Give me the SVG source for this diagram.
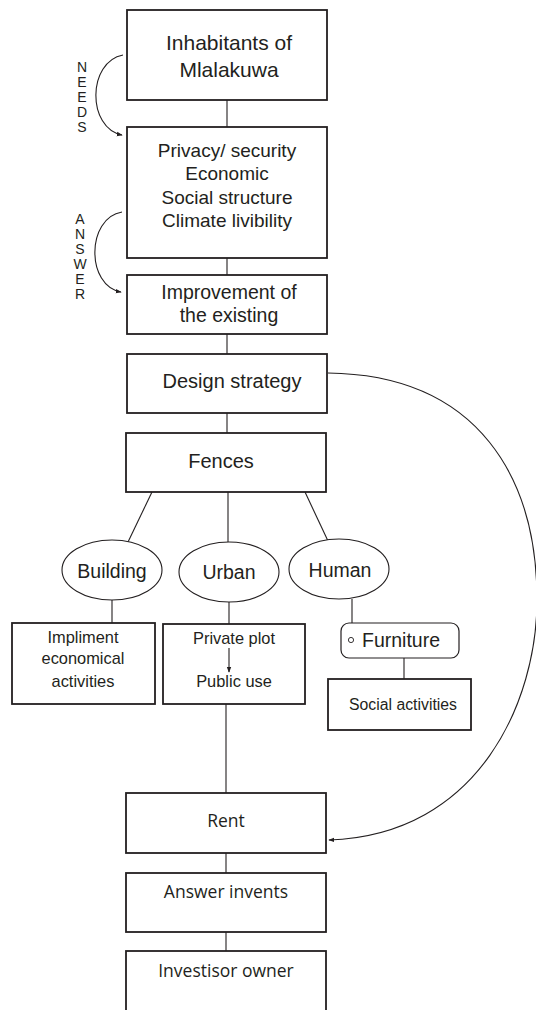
<svg xmlns="http://www.w3.org/2000/svg" width="536" height="1010" viewBox="0 0 536 1010">
<defs>
<style>
.box{fill:#fff;stroke:#231f20;stroke-width:1.8}
.ell{fill:#fff;stroke:#231f20;stroke-width:1.1}
.rbox{fill:#fff;stroke:#231f20;stroke-width:1.2}
.ln{fill:none;stroke:#231f20;stroke-width:1.1}
.t{font-family:"Liberation Sans",Arial,sans-serif;fill:#231f20;text-anchor:middle}
.m{font-family:"Open Sans","Noto Sans",sans-serif;fill:#231f20;text-anchor:middle;font-size:17.5px}
.v{font-family:"Liberation Sans",Arial,sans-serif;fill:#231f20;text-anchor:middle;font-size:14px}
</style>
<marker id="ah" viewBox="0 0 8 8" refX="7" refY="4" markerWidth="6" markerHeight="6" orient="auto" markerUnits="userSpaceOnUse">
<path d="M0,1 L8,4 L0,7 Z" fill="#231f20"/>
</marker>
</defs>
<rect width="536" height="1010" fill="#fff"/>

<g id="connectors">
<line class="ln" x1="227" y1="100" x2="227" y2="127"/>
<line class="ln" x1="227" y1="258" x2="227" y2="275"/>
<line class="ln" x1="227" y1="334" x2="227" y2="354"/>
<line class="ln" x1="227" y1="413" x2="227" y2="433"/>
<line class="ln" x1="152" y1="492" x2="128" y2="542"/>
<line class="ln" x1="228" y1="492" x2="228" y2="542"/>
<line class="ln" x1="305" y1="492" x2="328" y2="541"/>
<line class="ln" x1="112" y1="600" x2="112" y2="623"/>
<line class="ln" x1="229" y1="602" x2="229" y2="624"/>
<line class="ln" x1="352" y1="599" x2="352" y2="623"/>
<line class="ln" x1="404" y1="658" x2="404" y2="679"/>
<line class="ln" x1="226" y1="704" x2="226" y2="793"/>
<line class="ln" x1="226" y1="853" x2="226" y2="873"/>
<line class="ln" x1="226" y1="932" x2="226" y2="951"/>
<path class="ln" d="M328,373 C480,375 537,480 537,600 C537,700 480,835 329,840" marker-end="url(#ah)"/>
<path class="ln" d="M123,55 C87,62 87,128 122,135" marker-end="url(#ah)"/>
<path class="ln" d="M122,212 C86,218 86,286 121,292" marker-end="url(#ah)"/>
</g>

<g id="needs-label">
<text class="v" x="82" y="72">N</text>
<text class="v" x="82" y="87">E</text>
<text class="v" x="82" y="102">E</text>
<text class="v" x="82" y="117">D</text>
<text class="v" x="82" y="132">S</text>
</g>
<g id="answer-label">
<text class="v" x="80" y="224">A</text>
<text class="v" x="80" y="239">N</text>
<text class="v" x="80" y="254">S</text>
<text class="v" x="80" y="269">W</text>
<text class="v" x="80" y="284">E</text>
<text class="v" x="80" y="299">R</text>
</g>

<g id="inhabitants">
<rect class="box" x="127" y="10" width="200" height="90"/>
<text class="t" x="229" y="50" font-size="21">Inhabitants of</text>
<text class="t" x="229" y="77" font-size="21">Mlalakuwa</text>
</g>
<g id="needs">
<rect class="box" x="127" y="127" width="200" height="131"/>
<text class="t" x="227" y="157" font-size="19">Privacy/ security</text>
<text class="t" x="227" y="180" font-size="19">Economic</text>
<text class="t" x="227" y="204" font-size="19">Social structure</text>
<text class="t" x="227" y="227" font-size="19">Climate livibility</text>
</g>
<g id="improvement">
<rect class="box" x="127" y="275" width="200" height="59"/>
<text class="t" x="229" y="299" font-size="19.5">Improvement of</text>
<text class="t" x="229" y="322" font-size="19.5">the existing</text>
</g>
<g id="design-strategy">
<rect class="box" x="127" y="354" width="200" height="59"/>
<text class="t" x="232" y="388" font-size="20">Design strategy</text>
</g>
<g id="fences">
<rect class="box" x="126" y="433" width="200" height="59"/>
<text class="t" x="221" y="468" font-size="20">Fences</text>
</g>
<g id="building">
<ellipse class="ell" cx="112" cy="570" rx="50" ry="30"/>
<text class="t" x="112" y="578" font-size="19.5">Building</text>
</g>
<g id="urban">
<ellipse class="ell" cx="229" cy="572" rx="50" ry="30"/>
<text class="t" x="229" y="579" font-size="19.5">Urban</text>
</g>
<g id="human">
<ellipse class="ell" cx="339" cy="569" rx="50" ry="30"/>
<text class="t" x="340" y="577" font-size="19.5">Human</text>
</g>
<g id="impliment">
<rect class="box" x="12" y="623" width="143" height="81"/>
<text class="t" x="83" y="643" font-size="16.4">Impliment</text>
<text class="t" x="83" y="664" font-size="16.4">economical</text>
<text class="t" x="83" y="687" font-size="16.4">activities</text>
</g>
<g id="private-plot">
<rect class="box" x="163" y="624" width="142" height="80"/>
<text class="t" x="234" y="644" font-size="16.4">Private plot</text>
<line class="ln" x1="229" y1="648" x2="229" y2="672" stroke-width="0.8" marker-end="url(#ah)"/>
<text class="t" x="234" y="687" font-size="16.4">Public use</text>
</g>
<g id="furniture">
<rect class="rbox" x="341" y="623" width="118" height="35" rx="8" ry="8"/>
<circle cx="351" cy="640" r="2.6" fill="none" stroke="#231f20" stroke-width="0.9"/>
<text class="t" x="362" y="647" font-size="19.5" text-anchor="start" style="text-anchor:start">Furniture</text>
</g>
<g id="social-activities">
<rect class="box" x="328" y="679" width="143" height="51"/>
<text class="t" x="403" y="710" font-size="15.8">Social activities</text>
</g>
<g id="rent">
<rect class="box" x="126" y="793" width="200" height="60"/>
<text class="m" x="226" y="827">Rent</text>
</g>
<g id="answer-invents">
<rect class="box" x="126" y="873" width="200" height="59"/>
<text class="m" x="226" y="898">Answer invents</text>
</g>
<g id="investisor-owner">
<rect class="box" x="126" y="951" width="200" height="80"/>
<text class="m" x="226" y="977">Investisor owner</text>
</g>
</svg>
